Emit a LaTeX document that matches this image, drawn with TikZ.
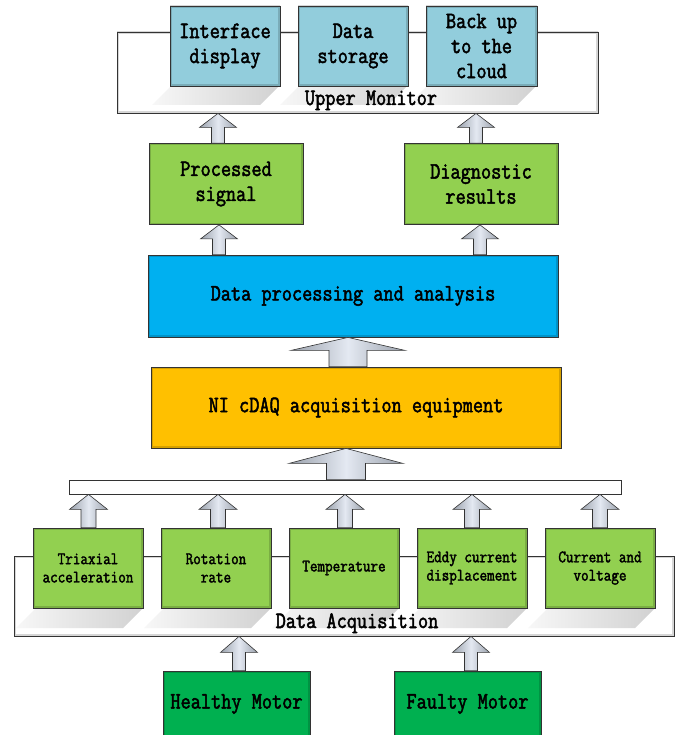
\documentclass[tikz,border=0pt]{standalone}
\usepackage{fontspec}
\newfontfamily\dmono[FakeStretch=0.84,FakeBold=2.1]{Latin Modern Mono}
\usetikzlibrary{calc}
\definecolor{aquabox}{HTML}{92CDDC}
\definecolor{limebox}{HTML}{92D050}
\definecolor{skybox}{HTML}{00B0F0}
\definecolor{goldbox}{HTML}{FFC000}
\definecolor{motorbox}{HTML}{00B050}
\definecolor{arrowedge}{HTML}{9AA1AC}
\definecolor{arrowmid}{HTML}{E4E9F2}
\newcommand\blockarr[5]{%
  \path[blockarrow] let \p1=(#1), \p2=(#2) in
   (\x1-#3,\y1) -- (\x1-#3,\y2-#5) -- (\x1-#4,\y2-#5) -- (\x1,\y2)
   -- (\x1+#4,\y2-#5) -- (\x1+#3,\y2-#5) -- (\x1+#3,\y1) -- cycle;}
\newcommand\shadowpar[4]{% x1 x2 ytop ybottom
  \path[shadowband] (#1,#3) -- (#2,#3) -- (#2-20,#4) -- (#1-20,#4) -- cycle;}
\begin{document}
\begin{tikzpicture}[x=1pt,y=-1pt,
  innerglow/.style={path picture={\draw[black,opacity=0.16,line width=4pt]
     (path picture bounding box.south west) rectangle (path picture bounding box.north east);}},
  box/.style={draw=black!80, line width=0.8pt, inner sep=0pt, align=center, innerglow},
  frame/.style={draw=black!80, line width=0.8pt, fill=white, inner sep=0pt, innerglow},
  bigtext/.style={font=\dmono\fontsize{23.5}{25}\selectfont},
  smalltext/.style={font=\dmono\fontsize{17.5}{18.3}\selectfont},
  topbox/.style={box, fill=aquabox, minimum width=110pt, minimum height=80pt, bigtext},
  resbox/.style={box, fill=limebox, minimum width=154pt, minimum height=81pt, bigtext},
  sensbox/.style={box, fill=limebox, minimum width=110pt, minimum height=80pt, smalltext},
  motor/.style={box, fill=motorbox, minimum width=147pt, minimum height=66pt, bigtext},
  blockarrow/.style={draw=black!80, line width=0.6pt, left color=arrowedge, right color=arrowedge, middle color=arrowmid},
  shadowband/.style={left color=black!3, right color=black!18},
  framelabel/.style={bigtext, anchor=base, inner sep=0pt}
]
\clip (0,0) rectangle (683,735);
\fill[white] (0,0) rectangle (683,735);

% ---------- Upper monitor frame ----------
\node[frame, minimum width=481pt, minimum height=81pt] (um) at (357.5,72.5) {};
\shadowpar{172}{280}{85}{105}
\shadowpar{300}{408}{85}{105}
\shadowpar{428}{537}{85}{105}
\node[framelabel] (umlabel) at (371,105) {Upper Monitor};
\node[topbox, minimum width=110pt] (disp) at (225,46) {Interface\\display};
\node[topbox] (stor) at (353,46) {Data\\storage};
\node[topbox, minimum width=111pt] (cloud) at (481.5,46) {Back up\\to the\\cloud};

% ---------- results ----------
\node[resbox] (ps) at (226,184) {Processed\\signal};
\node[resbox] (diag) at (481,184) {Diagnostic\\results};

% ---------- processing ----------
\node[box, fill=skybox, minimum width=410pt, minimum height=82pt, bigtext] (dp) at (353,296) {Data processing and analysis};
\node[box, fill=goldbox, minimum width=410pt, minimum height=81pt, bigtext] (ni) at (356,407.5) {NI cDAQ acquisition equipment};

% ---------- collector bar ----------
\node[draw=black!80, line width=0.8pt, fill=white, minimum width=552pt, minimum height=14pt, inner sep=0pt] (bar) at (345,487) {};

% ---------- data acquisition frame ----------
\node[frame, minimum width=660pt, minimum height=80pt] (da) at (344,596) {};
\shadowpar{36}{143}{608}{628}
\shadowpar{164}{271}{608}{628}
\shadowpar{292}{399}{608}{628}
\shadowpar{420}{527}{608}{628}
\shadowpar{548}{655}{608}{628}
\node[framelabel] (dalabel) at (357,628) {Data Acquisition};
\node[sensbox] (s1) at (88,568) {Triaxial\\acceleration};
\node[sensbox] (s2) at (216,568) {Rotation\\rate};
\node[sensbox] (s3) at (344,568) {Temperature};
\node[sensbox] (s4) at (472,568) {Eddy current\\displacement};
\node[sensbox] (s5) at (600,568) {Current and\\voltage};

% ---------- motors ----------
\node[motor] (hm) at (236.5,704) {Healthy Motor};
\node[motor] (fm) at (467.5,704) {Faulty Motor};

% ---------- block arrows ----------
\blockarr{[xshift=-8pt]ps.north}{um.south}{6.5pt}{18.5pt}{14pt}
\blockarr{[xshift=-5pt]diag.north}{um.south}{6.5pt}{18.5pt}{14pt}
\blockarr{[xshift=-134pt]dp.north}{ps.south}{6.5pt}{18.5pt}{14pt}
\blockarr{[xshift=127pt]dp.north}{diag.south}{6.5pt}{18.5pt}{14pt}
\blockarr{[xshift=-8pt]ni.north}{dp.south}{19pt}{57pt}{13pt}
\blockarr{[xshift=1pt]bar.north}{ni.south}{19.5pt}{57pt}{15pt}
\blockarr{[xshift=0.5pt]s1.north}{bar.south}{7.5pt}{19pt}{15pt}
\blockarr{[xshift=2pt]s2.north}{bar.south}{7.5pt}{19pt}{15pt}
\blockarr{[xshift=1pt]s3.north}{bar.south}{7.5pt}{19pt}{15pt}
\blockarr{s4.north}{bar.south}{7.5pt}{19pt}{15pt}
\blockarr{s5.north}{bar.south}{7.5pt}{19pt}{15pt}
\blockarr{[xshift=2.5pt]hm.north}{da.south}{6.5pt}{18.5pt}{16pt}
\blockarr{[xshift=3.5pt]fm.north}{da.south}{6.5pt}{18.5pt}{16pt}
\end{tikzpicture}
\end{document}
